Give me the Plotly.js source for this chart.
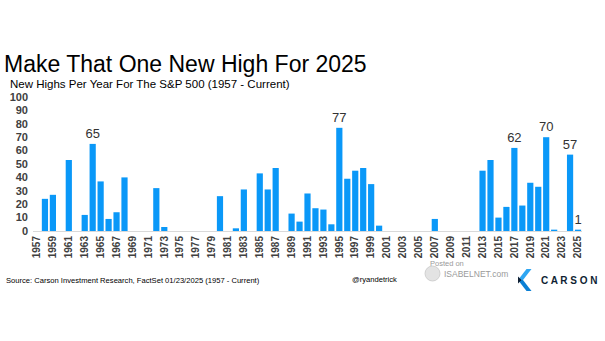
<!DOCTYPE html>
<html>
<head>
<meta charset="utf-8">
<script src="https://cdn.plot.ly/plotly-3.0.1.min.js"></script>
<style>html,body{margin:0;padding:0;background:#fff;}#chart{width:605px;height:341px;}</style>
</head>
<body>
<div id="chart"></div>
<script>
const years = ["1957","1958","1959","1960","1961","1962","1963","1964","1965","1966","1967","1968","1969","1970","1971","1972","1973","1974","1975","1976","1977","1978","1979","1980","1981","1982","1983","1984","1985","1986","1987","1988","1989","1990","1991","1992","1993","1994","1995","1996","1997","1998","1999","2000","2001","2002","2003","2004","2005","2006","2007","2008","2009","2010","2011","2012","2013","2014","2015","2016","2017","2018","2019","2020","2021","2022","2023","2024","2025"];
const newHighs = [0,24,27,0,53,0,12,65,37,9,14,40,0,0,0,32,3,0,0,0,0,0,0,26,0,2,31,0,43,31,47,0,13,7,28,17,16,5,77,39,45,47,35,4,0,0,0,0,0,0,9,0,0,0,0,0,45,53,10,18,62,19,36,33,70,1,0,57,1];
const labeledYears = ["1964","1995","2017","2021","2024","2025"];
const tickYears = ["1957","1959","1961","1963","1965","1967","1969","1971","1973","1975","1977","1979","1981","1983","1985","1987","1989","1991","1993","1995","1997","1999","2001","2003","2005","2007","2009","2011","2013","2015","2017","2019","2021","2023","2025"];
const yTicks = [0,10,20,30,40,50,60,70,80,90,100];

const FONT = "Liberation Sans, Arial, Helvetica, sans-serif";
const W = 605, H = 341;
const M = {l: 33, r: 23, t: 97, b: 110};
const PW = W - M.l - M.r, PH = H - M.t - M.b;
function px(x){ return (x - M.l) / PW; }
function py(y){ return (H - M.b - y) / PH; }

const barText = years.map((y, i) => labeledYears.includes(y) ? String(newHighs[i]) : "");

const trace = {
  type: "bar",
  x: years,
  y: newHighs,
  text: barText,
  textposition: "outside",
  constraintext: "none",
  cliponaxis: false,
  textfont: {family: FONT, size: 13, color: "#333333"},
  marker: {color: "#0A98F8"},
  hoverinfo: "x+y"
};

function chevronPath(pts){
  return "M " + pts.map(p => px(p[0]).toFixed(5) + "," + py(p[1]).toFixed(5)).join(" L ") + " Z";
}

const layout = {
  width: W, height: H,
  margin: M,
  paper_bgcolor: "#ffffff",
  plot_bgcolor: "#ffffff",
  showlegend: false,
  bargap: 0.22,
  font: {family: FONT},
  title: {
    text: "Make That One New High For 2025",
    font: {family: FONT, size: 23, color: "#000000"},
    xref: "container", yref: "container",
    x: 4 / W, xanchor: "left",
    y: 1 - 64 / H, yanchor: "middle",
    pad: {l: 0, r: 0, t: 0, b: 0}
  },
  xaxis: {
    type: "category",
    categoryorder: "array",
    categoryarray: years,
    tickmode: "array",
    tickvals: tickYears,
    ticktext: tickYears,
    tickangle: -90,
    tickfont: {family: FONT, size: 10, color: "#404040", weight: "bold"},
    ticks: "",
    showgrid: false,
    zeroline: false,
    showline: true,
    linecolor: "#d9d9d9",
    linewidth: 1,
    fixedrange: true
  },
  yaxis: {
    range: [0, 100],
    tickmode: "array",
    tickvals: yTicks,
    tickfont: {family: FONT, size: 11, color: "#404040", weight: "bold"},
    ticks: "",
    showgrid: false,
    zeroline: false,
    showline: false,
    ticklabelstandoff: 4,
    fixedrange: true
  },
  annotations: [
    {text: "New Highs Per Year For The S&P 500 (1957 - Current)", xref: "paper", yref: "paper",
     x: px(8), y: py(84.5), xanchor: "left", yanchor: "middle", showarrow: false,
     font: {family: FONT, size: 11.5, color: "#000000"}},
    {text: "Source: Carson Investment Research, FactSet 01/23/2025 (1957 - Current)", xref: "paper", yref: "paper",
     x: px(4), y: py(280), xanchor: "left", yanchor: "middle", showarrow: false,
     font: {family: FONT, size: 7.6, color: "#000000"}},
    {text: "@ryandetrick", xref: "paper", yref: "paper",
     x: px(374), y: py(279.5), xanchor: "center", yanchor: "middle", showarrow: false,
     font: {family: FONT, size: 7.6, color: "#000000"}},
    {text: "Posted on", xref: "paper", yref: "paper",
     x: px(428), y: py(263), xanchor: "left", yanchor: "middle", showarrow: false,
     font: {family: FONT, size: 7.5, color: "#9a9a9a"}},
    {text: "ISABELNET.com", xref: "paper", yref: "paper",
     x: px(442), y: py(273.5), xanchor: "left", yanchor: "middle", showarrow: false,
     font: {family: FONT, size: 8.5, color: "#9a9a9a"}},
    {text: "C A R S O N", xref: "paper", yref: "paper",
     x: px(539), y: py(280), xanchor: "left", yanchor: "middle", showarrow: false,
     font: {family: FONT, size: 10, color: "#0f1f33", weight: "bold"}}
  ],
  shapes: [
    {type: "circle", xref: "paper", yref: "paper",
     x0: px(425), x1: px(440), y0: py(281), y1: py(266),
     fillcolor: "#e3e3e3", line: {color: "#c8c8c8", width: 0.8}},
    {type: "path", xref: "paper", yref: "paper",
     path: chevronPath([[526.5,269],[531.5,269],[523,280],[518,280]]),
     fillcolor: "#2ea6f2", line: {width: 0}},
    {type: "path", xref: "paper", yref: "paper",
     path: chevronPath([[518,280],[523,280],[531.5,291],[526.5,291]]),
     fillcolor: "#0b7fd4", line: {width: 0}},
    {type: "path", xref: "paper", yref: "paper",
     path: chevronPath([[518,276.5],[521.5,280],[518,283.5]]),
     fillcolor: "#0f1f33", line: {width: 0}}
  ]
};

Plotly.newPlot("chart", [trace], layout, {displayModeBar: false, staticPlot: true});
</script>
</body>
</html>
